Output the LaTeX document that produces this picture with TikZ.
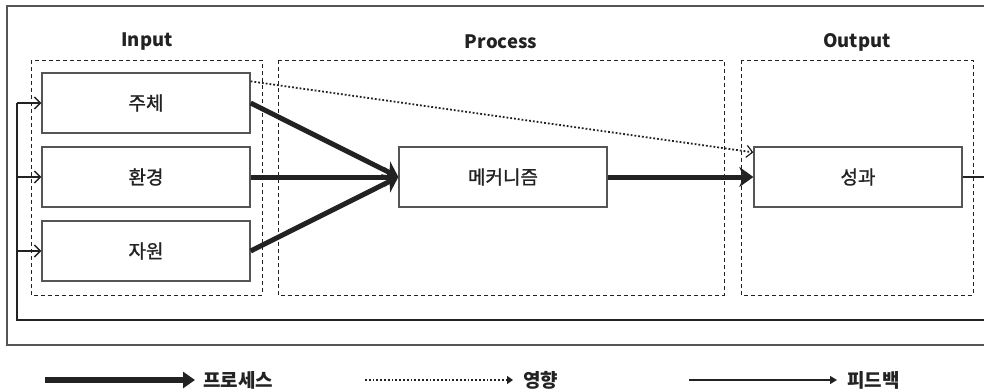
\documentclass[tikz,border=0pt]{standalone}
\usepackage{fontspec}
\setmainfont{Noto Sans CJK KR}
\newfontfamily\boxfont{Noto Sans CJK KR}[FakeBold=1.2]
\usetikzlibrary{arrows.meta,calc}

\definecolor{ink}{HTML}{222222}
\definecolor{edge}{HTML}{555555}

\tikzset{
  stagebox/.style={draw=edge, line width=1.3pt, minimum width=208pt, minimum height=60pt,
    inner sep=0pt, text=ink, font=\boxfont\fontsize{19}{21}\selectfont},
  groupbox/.style={draw=ink, line width=0.9pt, dash pattern=on 4pt off 3pt},
  grouptitle/.style={text=ink, font=\fontsize{18.5}{20}\selectfont\bfseries},
  legendtext/.style={text=ink, anchor=west, inner sep=0pt, font=\fontsize{19}{21}\selectfont\bfseries},
  processarrow/.style={draw=ink, line width=5pt, -{Stealth[length=14pt,width=20pt,inset=4pt]}},
  influencearrow/.style={draw=ink, line width=1.8pt, dotted, -{Straight Barb[length=6pt,width=12pt,line width=1.2pt]}},
  feedbackline/.style={draw=ink, line width=2.4pt},
  feedbackarrow/.style={draw=ink, line width=1.6pt, -{Straight Barb[length=6pt,width=12pt,line width=1.4pt]}},
}

\begin{document}
\begin{tikzpicture}[x=1pt, y=-1pt]
  \clip (0,0) rectangle (984,391);
  \fill[white] (0,0) rectangle (984,391);

  % outer frame, its right side runs past the page edge
  \draw[edge, line width=1.3pt] (7,6) rectangle (1000,345);

  % stage groups
  \draw[groupbox] (31,60) rectangle (262,295);
  \draw[groupbox] (278,60) rectangle (724,295);
  \draw[groupbox] (741,60) rectangle (973,295);
  \node[grouptitle] (tin)   at (147,42) {Input};
  \node[grouptitle] (tproc) at (501,42) {Process};
  \node[grouptitle] (tout)  at (857,42) {Output};

  % boxes
  \node[stagebox] (ju)   at (146,103) {주체};
  \node[stagebox] (hw)   at (146,177) {환경};
  \node[stagebox] (jw)   at (146,251) {자원};
  \node[stagebox] (mech) at (503,177) {메커니즘};
  \node[stagebox] (sg)   at (858,177) {성과};

  % process flow
  \draw[processarrow] (ju.east) -- (mech.west);
  \draw[processarrow] (hw.east) -- (mech.west);
  \draw[processarrow] (jw.east) -- (mech.west);
  \draw[processarrow] (mech.east) -- (sg.west);

  % influence
  \draw[influencearrow] ($(ju.north east)+(0,9)$) -- ($(sg.north west)+(0,6)$);

  % feedback loop
  \coordinate (fbtr) at (1000,177);
  \coordinate (fbbl) at (17,320);
  \coordinate (fb1) at (17,103);
  \coordinate (fb2) at (17,177);
  \coordinate (fb3) at (17,251);
  \draw[feedbackline] (sg.east) -- (fbtr) |- (fbbl) -- (fb1);
  \draw[feedbackarrow] (fb1) -- (ju.west);
  \draw[feedbackarrow] (fb2) -- (hw.west);
  \draw[feedbackarrow] (fb3) -- (jw.west);

  % legend
  \coordinate (l1a) at (45,380);  \coordinate (l1b) at (195,380);
  \coordinate (l2a) at (365,380); \coordinate (l2b) at (513,380);
  \coordinate (l3a) at (689,380); \coordinate (l3b) at (837,380);
  \draw[draw=ink, line width=5.5pt, -{Triangle[length=12pt,width=16pt]}] (l1a) -- (l1b);
  \draw[draw=ink, line width=1.8pt, dotted, -{Triangle[length=6pt,width=8pt]}] (l2a) -- (l2b);
  \draw[draw=ink, line width=1.4pt, -{Triangle[length=7pt,width=8pt]}] (l3a) -- (l3b);
  \node[legendtext] (lg1) at (203,380) {프로세스};
  \node[legendtext] (lg2) at (523,380) {영향};
  \node[legendtext] (lg3) at (847,380) {피드백};
\end{tikzpicture}
\end{document}
